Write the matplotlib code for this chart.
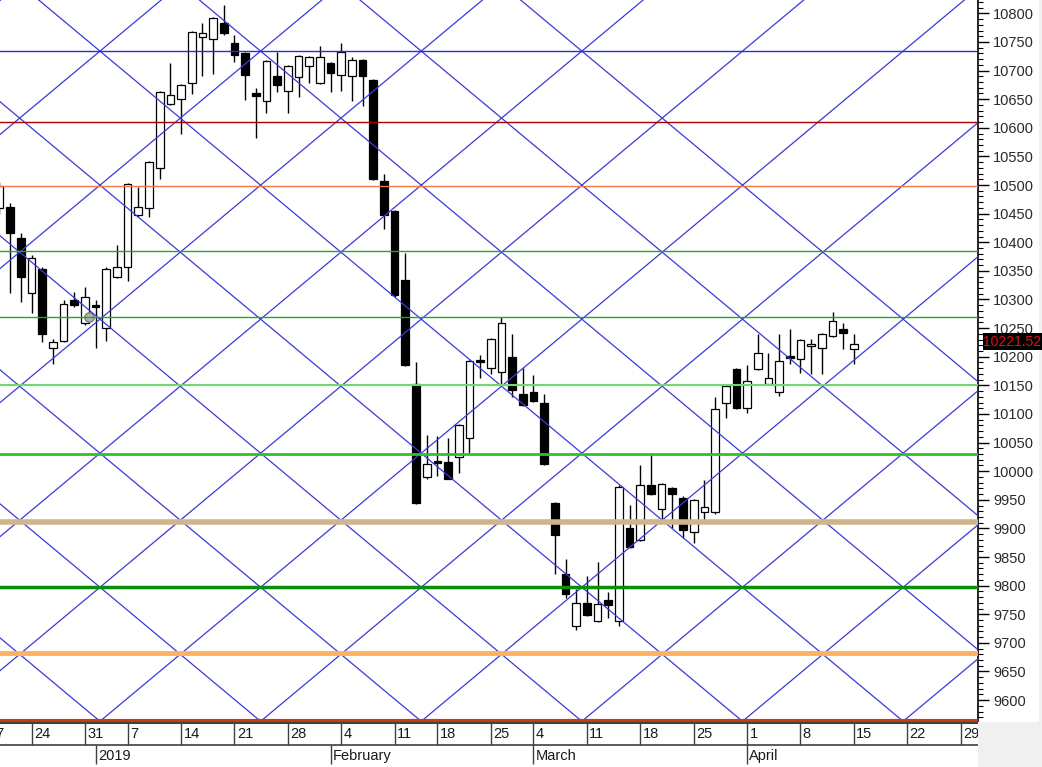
import matplotlib.pyplot as plt
from matplotlib.patches import Rectangle
from matplotlib.ticker import MultipleLocator

plt.rcParams['font.family'] = ['Liberation Sans', 'DejaVu Sans']

# daily candles, bar 0 = first (cut) bar at the left edge
opens = [10459, 10461, 10407, 10311, 10354, 10216, 10228, 10299, 10259, 10290,
         10251, 10339, 10356, 10447, 10459, 10529, 10641, 10650, 10678, 10759,
         10755, 10783, 10748, 10730, 10659, 10647, 10690, 10664, 10689, 10708,
         10678, 10713, 10692, 10690, 10718, 10683, 10507, 10454, 10334, 10153,
         9989, 10016, 10016, 10025, 10058, 10191, 10181, 10174, 10200, 10134,
         10139, 10120, 9945, 9821, 9730, 9770, 9738, 9775, 9738, 9901,
         9880, 9975, 9934, 9971, 9954, 9894, 9928, 9928, 10120, 10178,
         10111, 10179, 10153, 10139, 10201, 10196, 10218, 10216, 10237, 10248,
         10214]
highs = [10505, 10468, 10416, 10377, 10356, 10231, 10299, 10313, 10321, 10299,
         10356, 10395, 10503, 10496, 10542, 10664, 10713, 10676, 10769, 10783,
         10794, 10815, 10762, 10732, 10669, 10718, 10732, 10710, 10727, 10726,
         10743, 10715, 10748, 10724, 10720, 10685, 10519, 10456, 10381, 10191,
         10064, 10062, 10058, 10082, 10195, 10203, 10233, 10270, 10240, 10181,
         10168, 10135, 9947, 9847, 9795, 9816, 9842, 9789, 9975, 9941,
         10010, 10030, 9980, 9973, 9956, 9952, 9984, 10130, 10150, 10180,
         10186, 10240, 10206, 10240, 10249, 10231, 10231, 10242, 10278, 10259,
         10240]
lows = [10450, 10311, 10295, 10276, 10225, 10188, 10225, 10287, 10255, 10216,
        10228, 10337, 10333, 10445, 10444, 10510, 10639, 10589, 10659, 10690,
        10694, 10762, 10715, 10648, 10583, 10625, 10662, 10625, 10653, 10678,
        10676, 10662, 10664, 10646, 10638, 10508, 10424, 10305, 10184, 9943,
        9987, 9992, 9987, 9997, 10032, 10163, 10169, 10153, 10129, 10114,
        10121, 10011, 9821, 9779, 9723, 9747, 9736, 9743, 9729, 9865,
        9878, 9959, 9917, 9901, 9883, 9874, 9914, 9926, 10093, 10109,
        10102, 10176, 10151, 10132, 10188, 10172, 10170, 10169, 10234, 10214,
        10188]
closes = [10499, 10417, 10339, 10372, 10240, 10226, 10292, 10290, 10304, 10287,
          10354, 10356, 10501, 10461, 10540, 10662, 10657, 10674, 10767, 10766,
          10792, 10766, 10727, 10692, 10656, 10716, 10674, 10708, 10725, 10724,
          10724, 10695, 10732, 10718, 10690, 10510, 10447, 10307, 10186, 9945,
          10013, 10014, 9987, 10080, 10193, 10190, 10231, 10259, 10141, 10116,
          10123, 10013, 9889, 9786, 9770, 9749, 9768, 9766, 9973, 9867,
          9975, 9961, 9978, 9961, 9897, 9950, 9937, 10109, 10148, 10111,
          10158, 10206, 10163, 10193, 10197, 10229, 10222, 10240, 10262, 10241,
          10221.52]
last_price = 10221.52

# horizontal levels
levels = [10734, 10610, 10498, 10385, 10269, 10151, 10030, 9912, 9797, 9682, 9563]
level_colors = ['#2a2ae8', '#a80000', '#f07848', '#22a822', '#22a822', '#70d870',
                '#30c030', '#d2b48c', '#089008', '#ffb060', '#c04010']
level_widths = [1, 1, 1, 1, 1, 1.5, 2, 4, 2.5, 3.5, 3]

# gann grid: one crossing point, half cell width (bars) and height (points)
grid_x0, grid_y0 = 9.41, 9563
grid_dx, grid_dy = 7.52, 117.1

# date axis
week_pos = [-1.2, 3, 8, 12, 17, 22, 27, 32, 37, 41, 46, 50, 55, 60, 65, 70, 75, 80, 85, 90]
week_labels = ['17', '24', '31', '7', '14', '21', '28', '4', '11', '18', '25',
               '4', '11', '18', '25', '1', '8', '15', '22', '29']
month_pos = [9, 31, 50, 70]
month_labels = ['2019', 'February', 'March', 'April']

W, H = 1042, 767
fig = plt.figure(figsize=(W / 100, H / 100), dpi=100)
ax = fig.add_axes([0, 44 / H, 978 / W, 723 / H])
xmin, xmax = 0.05, 91.62
ax.set_xlim(xmin, xmax)
ax.set_ylim(9560, 10823.3)

# candles
for i in range(len(opens)):
    o, h, l, c = opens[i], highs[i], lows[i], closes[i]
    ax.vlines(i, l, h, color='black', linewidth=1, zorder=2)
    bottom = min(o, c)
    height = max(abs(c - o), 4)
    face = 'white' if c > o else 'black'
    ax.bar(i, height, bottom=bottom, width=0.72, facecolor=face,
           edgecolor='black', linewidth=0.9, zorder=3)

ax.scatter([8.4], [10269], s=45, color='#b4b4b4', edgecolor='#7a7a7a',
           linewidth=1, zorder=4)

# gann diagonals
slope = grid_dy / grid_dx
for k in range(-8, 9):
    x0 = grid_x0 + 2 * grid_dx * k
    ax.axline((x0, grid_y0), slope=slope, color='#3a3ad8', linewidth=0.9, zorder=5)
    ax.axline((x0, grid_y0), slope=-slope, color='#3a3ad8', linewidth=0.9, zorder=5)

for lv, col, lw in zip(levels, level_colors, level_widths):
    ax.axhline(lv, color=col, linewidth=lw, zorder=6)

# right price axis
ax.yaxis.tick_right()
ax.yaxis.set_major_locator(MultipleLocator(50))
ax.yaxis.set_minor_locator(MultipleLocator(10))
ax.tick_params(axis='y', which='major', length=8, width=1, pad=3,
               labelsize=10.5, labelcolor='#2a2a2a')
ax.tick_params(axis='y', which='minor', length=3.5, width=0.8)
ax.set_xticks([])
for s in ['top', 'left', 'bottom']:
    ax.spines[s].set_visible(False)
ax.spines['right'].set_linewidth(1.2)

# date band
ax2 = fig.add_axes([0, 0, 978 / W, 44 / H])
ax2.set_xlim(xmin, xmax)
ax2.set_ylim(0, 44)
ax2.set_xticks([])
ax2.set_yticks([])
for s in ['left', 'right', 'bottom']:
    ax2.spines[s].set_visible(False)
ax2.spines['top'].set_color('#404040')
ax2.spines['top'].set_linewidth(1.5)
ax2.axhline(22, color='#404040', linewidth=1.2)
ax2.vlines(week_pos, 22, 44, color='#404040', linewidth=1)
ax2.vlines(month_pos, 3, 22, color='#404040', linewidth=1)
for p, t in zip(week_pos, week_labels):
    ax2.text(p + 0.22, 32.5, t, ha='left', va='center', fontsize=10.5,
             color='#1a1a1a', clip_on=True)
for p, t in zip(month_pos, month_labels):
    ax2.text(p + 0.22, 11, t, ha='left', va='center', fontsize=10.5,
             color='#1a1a1a', clip_on=True)

# grey corner and current price box
fig.patches.append(Rectangle((978 / W, 0), 64 / W, 45 / H, transform=fig.transFigure,
                             facecolor='#f0f0f0', edgecolor='none'))
fig.patches.append(Rectangle((1039 / W, 45 / H), 3 / W, 722 / H, transform=fig.transFigure,
                             facecolor='#f0f0f0', edgecolor='none'))
fig.patches.append(Rectangle((983 / W, 1 - 350 / H), 59 / W, 17 / H, transform=fig.transFigure,
                             facecolor='black', edgecolor='none', zorder=10))
fig.text(1012.5 / W, 1 - 341.5 / H, '%.2f' % last_price, ha='center', va='center',
         fontsize=10, color='#e01010', zorder=11)

fig.savefig('out.png', dpi=100)
